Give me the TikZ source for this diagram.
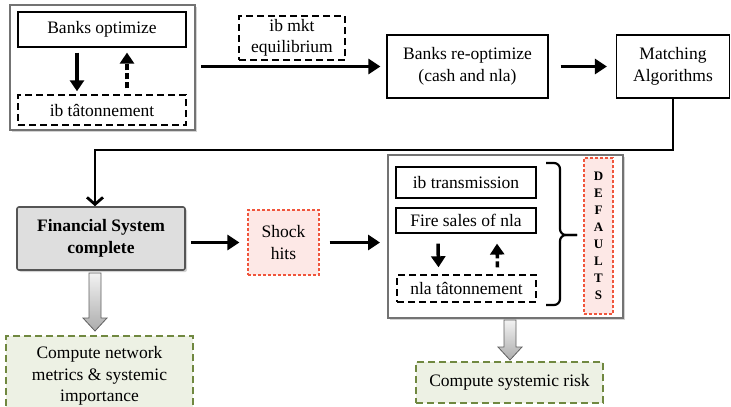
\documentclass[tikz,border=0pt]{standalone}
\usepackage{fontspec}
\setmainfont{Liberation Serif}
\usetikzlibrary{arrows.meta,shadows,calc}

\definecolor{framegray}{RGB}{115,115,115}
\definecolor{finfill}{RGB}{222,222,222}
\definecolor{finedge}{RGB}{85,85,85}
\definecolor{shockedge}{RGB}{240,85,60}
\definecolor{shockfill}{RGB}{253,232,230}
\definecolor{outedge}{RGB}{112,136,64}
\definecolor{outfill}{RGB}{237,241,228}

\tikzset{
  txt/.style={font=\fontsize{17.5}{21.5}\selectfont, align=center, inner sep=0pt},
  plainbox/.style={txt, draw, line width=1.2pt, fill=white},
  dashbox/.style={plainbox, line width=1.4pt, dash pattern=on 7pt off 4pt},
  frame/.style={draw=framegray, line width=2pt, fill=white,
    drop shadow={opacity=0.35, shadow xshift=2pt, shadow yshift=-2pt}},
  finbox/.style={txt, font=\fontsize{17.5}{21.5}\selectfont\bfseries, draw=finedge,
    line width=1.6pt, fill=finfill, rounded corners=2pt,
    drop shadow={opacity=0.35, shadow xshift=2pt, shadow yshift=-2pt}},
  redbox/.style={txt, draw=shockedge, fill=shockfill, line width=1.2pt,
    dash pattern=on 3pt off 2pt},
  greenbox/.style={txt, draw=outedge, fill=outfill, line width=1.4pt,
    dash pattern=on 7pt off 4pt},
  flow/.style={line width=3.5pt, -{Triangle[length=12pt,width=15pt]}},
  innerflow/.style={line width=3.5pt, -{Triangle[length=11pt,width=14pt]}},
  innerback/.style={innerflow, dash pattern=on 6pt off 3pt},
  loopline/.style={line width=2.8pt, -{Straight Barb[length=7pt,width=16pt,line width=2.8pt]}},
  blockarrow/.style={draw=gray!75!black, line width=0.8pt, top color=gray!10, bottom color=gray!65},
}

\begin{document}
\begin{tikzpicture}[x=1pt,y=-1pt]
\useasboundingbox (0,0) rectangle (731,407);

% ---- interbank optimisation loop
\node[frame, minimum width=185pt, minimum height=125pt] (loop) at (102.5,67.5) {};
\node[plainbox, minimum width=168pt, minimum height=35pt] (bopt) at (102,29.5) {Banks optimize};
\node[dashbox, minimum width=168pt, minimum height=30pt] (ibtat) at (102,110) {ib tâtonnement};
\draw[innerflow] ([xshift=-25pt,yshift=-5pt]bopt.south) -- ([xshift=-25pt,yshift=3pt]ibtat.north);
\draw[innerback] ([xshift=25pt,yshift=6pt]ibtat.north) -- ([xshift=25pt,yshift=-5pt]bopt.south);

% ---- top row
\node[dashbox, minimum width=106pt, minimum height=44pt] (ibeq) at (292,38) {ib mkt\\equilibrium};
\node[plainbox, minimum width=161pt, minimum height=63pt] (reopt) at (467.5,66.5) {Banks re-optimize\\(cash and nla)};
\node[plainbox, minimum width=113pt, minimum height=63pt] (match) at (673,66.5) {Matching\\Algorithms};

\draw[flow, shorten <=5pt, shorten >=6pt] (loop.east |- reopt.west) -- (reopt.west);
\draw[flow, shorten <=12pt, shorten >=9pt] (reopt.east) -- (match.west);

% ---- second row
\node[finbox, minimum width=168pt, minimum height=63pt] (fin) at (101,238.5) {Financial System\\complete};
\node[redbox, minimum width=71pt, minimum height=65pt] (shock) at (283.5,242.5) {Shock\\hits};

\node[frame, minimum width=235pt, minimum height=163pt] (cascade) at (505.5,236.5) {};
\node[plainbox, minimum width=140pt, minimum height=31pt] (ibtr) at (466,182.5) {ib transmission};
\node[plainbox, minimum width=140pt, minimum height=25pt] (fire) at (466,220.5) {Fire sales of nla};
\node[dashbox, minimum width=139pt, minimum height=27pt] (nlatat) at (466.5,288.5) {nla tâtonnement};
\draw[innerflow] ([xshift=-28pt,yshift=-10pt]fire.south) -- ([xshift=-28pt,yshift=7pt]nlatat.north);
\draw[innerback] ([xshift=31pt,yshift=7pt]nlatat.north) -- ([xshift=31pt,yshift=-10pt]fire.south);

% curly bracket gathering the three steps
\draw[line width=2.2pt, rounded corners=6pt] (546,163) -- (560,163) -- (560,235) -- (577,235);
\draw[line width=2.2pt, rounded corners=6pt] (546,305) -- (560,305) -- (560,235) -- (577,235);

\node[redbox, minimum width=29pt, minimum height=156pt,
      font=\fontsize{13}{17}\selectfont\bfseries] (defaults) at (598.5,236)
      {D\\E\\F\\A\\U\\L\\T\\S};

% loop back from matching to the completed system
\draw[loopline] (match.south) |- (95,150) -- ([xshift=-6pt]fin.north);

\draw[flow, shorten <=5pt, shorten >=8pt] (fin.east |- shock.west) -- (shock.west);
\draw[flow, shorten <=10pt, shorten >=7pt] (shock.east) -- (shock.east -| cascade.west);

% ---- outputs
\node[greenbox, minimum width=187pt, minimum height=80pt] (metrics) at (99.5,376)
  {Compute network\\metrics \& systemic\\importance};
\node[greenbox, minimum width=187pt, minimum height=41pt] (risk) at (509.5,382.5)
  {Compute systemic risk};

\draw[blockarrow] (89,273) -- (101,273) -- (101,318) -- (107,318) -- (95,331)
  -- (83,318) -- (89,318) -- cycle;
\draw[blockarrow] (504,320) -- (516,320) -- (516,347) -- (522,347) -- (510,360)
  -- (498,347) -- (504,347) -- cycle;
\end{tikzpicture}
\end{document}
